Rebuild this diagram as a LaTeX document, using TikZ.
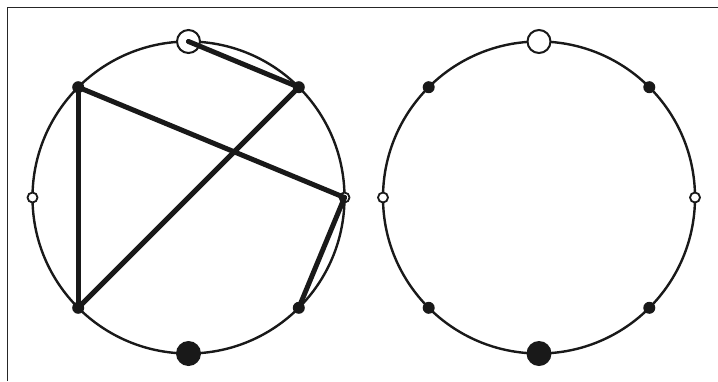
\documentclass[tikz,border=0pt]{standalone}
\usetikzlibrary{calc}
\begin{document}
\begin{tikzpicture}[x=1pt,y=-1pt,
  ring/.style={line width=2.4pt, draw=black!90},
  bigopen/.style={circle, draw=black!90, line width=2pt, fill=white, minimum size=23pt, inner sep=0pt},
  bigfill/.style={circle, fill=black!90, minimum size=25pt, inner sep=0pt},
  smallopen/.style={circle, draw=black!90, line width=1.8pt, fill=white, minimum size=10pt, inner sep=0pt},
  smallfill/.style={circle, fill=black!90, minimum size=12pt, inner sep=0pt},
  chord/.style={line width=5pt, draw=black!90, line cap=round},
  frame/.style={line width=1.4pt, draw=black!85}]
\useasboundingbox (0,0) rectangle (718,381);
\coordinate (fa) at (7.5,381);
\coordinate (fb) at (7.5,7.5);
\coordinate (fc) at (718,7.5);
\draw[frame] (fa) -- (fb) -- (fc);
% left diagram
\coordinate (L) at (188.5,197.5);
\draw[ring] (L) circle (156);
\node[bigopen] (L90) at ($(L)+(0,-156)$) {};
\node[bigfill] (L270) at ($(L)+(0,156)$) {};
\node[smallopen] (L180) at ($(L)+(-156,0)$) {};
\node[smallopen] (L0) at ($(L)+(156,0)$) {};
\node[smallfill] (L45) at ($(L)+(110.3,-110.3)$) {};
\node[smallfill] (L135) at ($(L)+(-110.3,-110.3)$) {};
\node[smallfill] (L225) at ($(L)+(-110.3,110.3)$) {};
\node[smallfill] (L315) at ($(L)+(110.3,110.3)$) {};
\draw[chord] (L90.center) -- (L45.center);
\draw[chord] (L45.center) -- (L225.center);
\draw[chord] (L135.center) -- (L225.center);
\draw[chord] (L135.center) -- (L0.center);
\draw[chord] (L0.center) -- (L315.center);
% right diagram
\coordinate (R) at (539,197.5);
\draw[ring] (R) circle (156);
\node[bigopen] (R90) at ($(R)+(0,-156)$) {};
\node[bigfill] (R270) at ($(R)+(0,156)$) {};
\node[smallopen] (R180) at ($(R)+(-156,0)$) {};
\node[smallopen] (R0) at ($(R)+(156,0)$) {};
\node[smallfill] (R45) at ($(R)+(110.3,-110.3)$) {};
\node[smallfill] (R135) at ($(R)+(-110.3,-110.3)$) {};
\node[smallfill] (R225) at ($(R)+(-110.3,110.3)$) {};
\node[smallfill] (R315) at ($(R)+(110.3,110.3)$) {};
\end{tikzpicture}
\end{document}
